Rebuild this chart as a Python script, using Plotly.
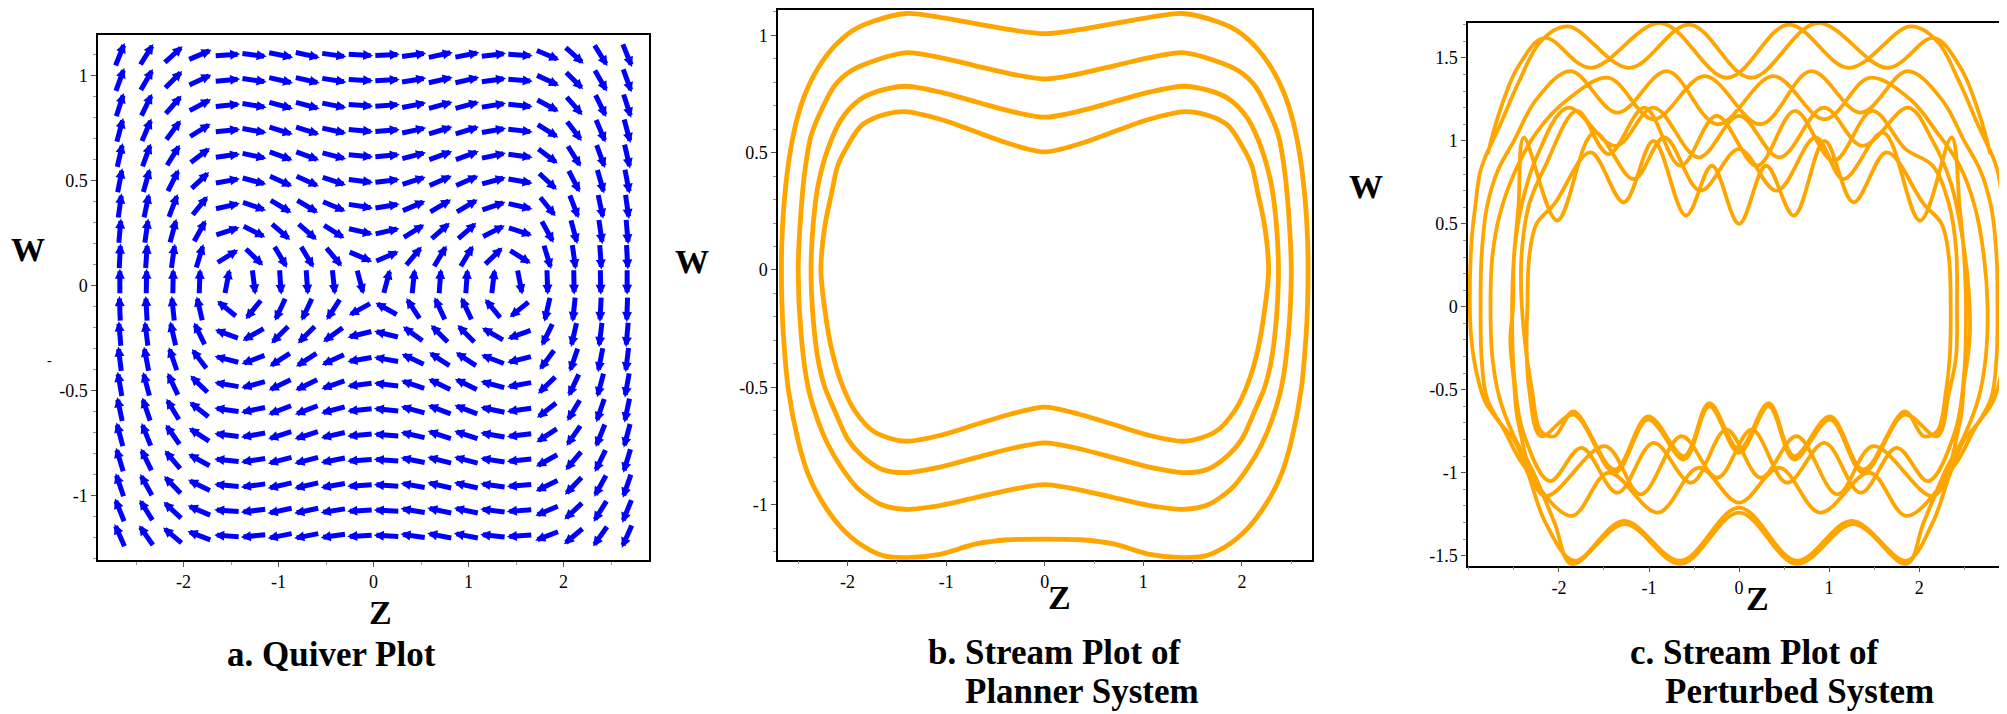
import plotly.graph_objects as go
import math

FIG_W, FIG_H = 2007, 714
BLUE = "#0000FF"
ORANGE = "#FFA500"
SERIF = "Liberation Serif"

# ---------------- panel a : quiver (direction field) ----------------
Z_COLS = [-2.67, -2.39, -2.11, -1.83, -1.54, -1.26, -0.98, -0.70, -0.42, -0.14,
          0.14, 0.42, 0.70, 0.98, 1.26, 1.54, 1.83, 2.11, 2.39, 2.67]
W_ROWS = [1.10, 0.98, 0.86, 0.74, 0.62, 0.50, 0.38, 0.26, 0.14, 0.02,
          -0.11, -0.23, -0.35, -0.47, -0.59, -0.71, -0.83, -0.95, -1.07, -1.19]
# on-screen arrow direction in degrees (0 = right, 90 = up), one row per W_ROWS entry
ARROW_ANGLE_DEG = [
    [68, 58, 42, 23, 4, -7, -11, -12, -8, -3, 3, 8, 12, 11, 7, -4, -23, -42, -58, -68],
    [70, 60, 45, 25, 5, -8, -13, -13, -9, -3, 3, 9, 13, 13, 8, -5, -25, -45, -60, -70],
    [72, 64, 49, 28, 6, -9, -15, -15, -11, -4, 4, 11, 15, 15, 9, -6, -28, -49, -64, -72],
    [75, 67, 53, 32, 6, -10, -17, -17, -12, -5, 5, 12, 17, 17, 10, -6, -32, -53, -67, -75],
    [77, 70, 58, 37, 8, -12, -20, -20, -15, -5, 5, 15, 20, 20, 12, -8, -37, -58, -70, -77],
    [79, 74, 63, 43, 10, -15, -24, -24, -18, -7, 7, 18, 24, 24, 15, -10, -43, -63, -74, -79],
    [82, 78, 69, 51, 13, -19, -31, -31, -23, -9, 9, 23, 31, 31, 19, -13, -51, -69, -78, -82],
    [85, 82, 75, 61, 18, -27, -41, -41, -32, -13, 13, 32, 41, 41, 27, -18, -61, -75, -82, -85],
    [87, 86, 82, 73, 32, -44, -59, -59, -50, -23, 23, 50, 59, 59, 44, -32, -73, -82, -86, -87],
    [90, 89, 89, 88, 79, -83, -86, -86, -84, -75, 75, 84, 86, 86, 83, -79, -88, -89, -89, -90],
    [92, 93, 96, 103, 141, -129, -115, -115, -123, -151, 151, 123, 115, 115, 129, -141, -103, -96, -93, -92],
    [95, 97, 103, 116, 160, -150, -135, -135, -144, -166, 166, 144, 135, 135, 150, -160, -116, -103, -97, -95],
    [97, 101, 109, 127, 166, -159, -147, -147, -155, -170, 170, 155, 147, 147, 159, -166, -127, -109, -101, -97],
    [100, 105, 115, 136, 170, -165, -154, -154, -161, -173, 173, 161, 154, 154, 165, -170, -136, -115, -105, -100],
    [102, 109, 121, 142, 172, -168, -159, -159, -165, -174, 174, 165, 159, 159, 168, -172, -142, -121, -109, -102],
    [105, 112, 125, 147, 173, -170, -162, -162, -167, -175, 175, 167, 162, 162, 170, -173, -147, -125, -112, -105],
    [107, 116, 130, 151, 174, -171, -165, -165, -169, -176, 176, 169, 165, 165, 171, -174, -151, -130, -116, -107],
    [109, 119, 134, 154, 175, -172, -167, -167, -170, -176, 176, 170, 167, 167, 172, -175, -154, -134, -119, -109],
    [112, 122, 137, 157, 176, -173, -168, -168, -171, -177, 177, 171, 168, 168, 173, -176, -157, -137, -122, -112],
    [114, 125, 140, 159, 176, -174, -169, -169, -172, -177, 177, 172, 169, 169, 174, -176, -159, -140, -125, -114],
]

# ---------------- panel b : stream plot of planar system ----------------
B_LOOP1 = [(0, 1.007), (0.35, 1.024), (0.7, 1.05), (1.05, 1.076), (1.4, 1.093), (1.76, 1.057), (1.95, 1.02),
           (2.13, 0.955), (2.30, 0.86), (2.43, 0.75), (2.52, 0.63), (2.59, 0.48), (2.64, 0.30), (2.665, 0.13),
           (2.67, 0.0), (2.665, -0.15), (2.65, -0.28), (2.60, -0.51), (2.50, -0.73), (2.40, -0.87), (2.27, -0.98),
           (2.06, -1.10), (1.83, -1.18), (1.62, -1.22), (1.39, -1.226), (1.05, -1.211), (0.71, -1.169),
           (0.37, -1.150), (0, -1.147), (-0.37, -1.150), (-0.71, -1.169), (-1.05, -1.211), (-1.39, -1.226),
           (-1.62, -1.22), (-1.83, -1.18), (-2.06, -1.10), (-2.27, -0.98), (-2.40, -0.87), (-2.50, -0.73),
           (-2.60, -0.51), (-2.65, -0.28), (-2.665, -0.15), (-2.67, 0.0), (-2.665, 0.13), (-2.64, 0.30),
           (-2.59, 0.48), (-2.52, 0.63), (-2.43, 0.75), (-2.30, 0.86), (-2.13, 0.955), (-1.95, 1.02),
           (-1.76, 1.057), (-1.4, 1.093), (-1.05, 1.076), (-0.7, 1.05), (-0.35, 1.024), (0, 1.007)]
B_LOOP2 = [(0, 0.814), (0.35, 0.836), (0.7, 0.87), (1.05, 0.904), (1.4, 0.926), (1.72, 0.893), (1.96, 0.85),
           (2.13, 0.786), (2.26, 0.686), (2.37, 0.572), (2.43, 0.43), (2.47, 0.26), (2.50, 0.0), (2.47, -0.28),
           (2.40, -0.5), (2.30, -0.643), (2.20, -0.743), (2.06, -0.843), (1.90, -0.929), (1.66, -1.0),
           (1.42, -1.02), (1.05, -1.003), (0.7, -0.97), (0.35, -0.937), (0, -0.915), (-0.35, -0.937),
           (-0.7, -0.97), (-1.05, -1.003), (-1.42, -1.02), (-1.66, -1.0), (-1.90, -0.929), (-2.06, -0.843),
           (-2.20, -0.743), (-2.30, -0.643), (-2.40, -0.5), (-2.47, -0.28), (-2.50, 0.0), (-2.47, 0.26),
           (-2.43, 0.43), (-2.37, 0.572), (-2.26, 0.686), (-2.13, 0.786), (-1.96, 0.85), (-1.72, 0.893),
           (-1.4, 0.926), (-1.05, 0.904), (-0.7, 0.87), (-0.35, 0.836), (0, 0.814)]
B_LOOP3 = [(0, 0.651), (0.35, 0.677), (0.7, 0.717), (1.05, 0.757), (1.42, 0.783), (1.72, 0.758), (1.89, 0.722),
           (2.06, 0.644), (2.20, 0.515), (2.30, 0.358), (2.35, 0.187), (2.37, 0.0), (2.35, -0.2), (2.30, -0.38),
           (2.23, -0.5), (2.13, -0.6), (2.0, -0.72), (1.86, -0.79), (1.66, -0.848), (1.42, -0.864),
           (1.05, -0.839), (0.7, -0.8), (0.35, -0.762), (0, -0.737), (-0.35, -0.762), (-0.7, -0.8),
           (-1.05, -0.839), (-1.42, -0.864), (-1.66, -0.848), (-1.86, -0.79), (-2.0, -0.72), (-2.13, -0.6),
           (-2.23, -0.5), (-2.30, -0.38), (-2.35, -0.2), (-2.37, 0.0), (-2.35, 0.187), (-2.30, 0.358),
           (-2.20, 0.515), (-2.06, 0.644), (-1.89, 0.722), (-1.72, 0.758), (-1.42, 0.783), (-1.05, 0.757),
           (-0.7, 0.717), (-0.35, 0.677), (0, 0.651)]
B_LOOP4 = [(0, 0.503), (0.35, 0.537), (0.7, 0.589), (1.05, 0.641), (1.42, 0.675), (1.66, 0.658), (1.86, 0.615),
           (2.0, 0.529), (2.10, 0.444), (2.16, 0.33), (2.23, 0.187), (2.27, 0.0), (2.23, -0.17), (2.16, -0.341),
           (2.06, -0.484), (1.93, -0.598), (1.73, -0.69), (1.42, -0.73), (1.05, -0.704), (0.7, -0.659),
           (0.35, -0.615), (0, -0.585), (-0.35, -0.615), (-0.7, -0.659), (-1.05, -0.704), (-1.42, -0.73),
           (-1.73, -0.69), (-1.93, -0.598), (-2.06, -0.484), (-2.16, -0.341), (-2.23, -0.17), (-2.27, 0.0),
           (-2.23, 0.187), (-2.16, 0.33), (-2.10, 0.444), (-2.0, 0.529), (-1.86, 0.615), (-1.66, 0.658),
           (-1.42, 0.675), (-1.05, 0.641), (-0.7, 0.589), (-0.35, 0.537), (0, 0.503)]

# ---------------- panel c : stream plot of perturbed system ----------------
C_TRAJ1 = [(-2.79, 0.92), (-2.68, 1.14), (-2.46, 1.44), (-2.16, 1.62), (-1.65, 1.44), (-0.87, 1.71), (-0.13, 1.38),
           (0.55, 1.70), (1.22, 1.44), (1.90, 1.69), (2.2, 1.6), (2.45, 1.35), (2.65, 1.1), (2.82, 0.90),
           (2.88, 0.80), (2.93, 0.60), (2.97, 0.40), (2.99, 0.0), (2.97, -0.21), (2.91, -0.41), (2.82, -0.57),
           (2.67, -0.69), (2.49, -0.81), (2.34, -1.01), (2.15, -1.3), (1.86, -1.53), (1.25, -1.29), (0.64, -1.53),
           (0, -1.21), (-0.65, -1.53), (-1.28, -1.29), (-1.83, -1.53), (-2.15, -1.3), (-2.34, -1.01),
           (-2.49, -0.81), (-2.67, -0.69), (-2.82, -0.57), (-2.91, -0.41), (-2.97, -0.21), (-2.99, 0.0),
           (-2.97, 0.40), (-2.93, 0.60), (-2.88, 0.80), (-2.82, 0.90), (-2.65, 1.1), (-2.45, 1.35), (-2.2, 1.6),
           (-1.90, 1.69), (-1.22, 1.44), (-0.55, 1.70), (0.13, 1.38), (0.87, 1.71), (1.65, 1.44), (2.16, 1.62),
           (2.46, 1.44), (2.68, 1.14), (2.79, 0.92)]
C_TRAJ2 = [(-2.87, 0.0), (-2.86, 0.3), (-2.8, 0.6), (-2.68, 0.82), (-2.5, 1.0), (-2.25, 1.25), (-1.87, 1.42),
           (-1.35, 1.17), (-0.80, 1.42), (-0.24, 1.10), (0.38, 1.39), (0.95, 1.13), (1.45, 1.38), (1.9, 1.25),
           (2.2, 1.05), (2.45, 0.85), (2.62, 0.6), (2.72, 0.3), (2.76, 0.0), (2.74, -0.3), (2.66, -0.55),
           (2.5, -0.78), (2.3, -0.98), (2.05, -1.3), (1.86, -1.55), (1.27, -1.31), (0.64, -1.55), (0, -1.24),
           (-0.65, -1.55), (-1.27, -1.31), (-1.86, -1.55), (-2.05, -1.3), (-2.3, -0.98), (-2.5, -0.78),
           (-2.66, -0.55), (-2.74, -0.3), (-2.76, 0.0), (-2.74, 0.3), (-2.66, 0.55), (-2.5, 0.8), (-2.25, 1.05),
           (-1.9, 1.25), (-1.45, 1.38), (-0.95, 1.13), (-0.38, 1.39), (0.24, 1.10), (0.80, 1.42), (1.35, 1.17),
           (1.87, 1.42), (2.25, 1.25), (2.5, 1.0), (2.68, 0.82), (2.8, 0.6), (2.86, 0.3), (2.87, 0.0),
           (2.86, -0.3), (2.8, -0.55), (2.6, -0.75), (2.4, -0.95), (1.86, -1.26), (1.45, -1.0), (0.90, -1.24),
           (0.45, -0.97), (0.0, -1.18), (-0.45, -0.97), (-0.90, -1.24), (-1.45, -1.0), (-1.86, -1.26),
           (-2.4, -0.95), (-2.6, -0.75), (-2.8, -0.55), (-2.86, -0.3), (-2.87, 0.0)]
C_TRAJ3 = [(-2.51, 0.0), (-2.5, 0.3), (-2.42, 0.6), (-2.25, 0.9), (-1.9, 1.2), (-1.37, 0.97), (-0.95, 1.2),
           (-0.45, 0.90), (0, 1.15), (0.45, 0.90), (0.94, 1.2), (1.37, 0.97), (1.88, 1.2), (2.15, 1.0),
           (2.35, 0.75), (2.47, 0.45), (2.55, 0.1), (2.56, -0.2), (2.5, -0.45), (2.45, -0.7), (2.16, -1.14),
           (1.49, -0.84), (1.09, -1.13), (0.64, -0.78), (0.24, -1.03), (-0.14, -0.74), (-0.53, -1.06),
           (-0.95, -0.82), (-1.35, -1.12), (-1.75, -0.85), (-2.1, -1.05), (-2.4, -0.75), (-2.5, -0.4),
           (-2.52, 0.0), (-2.5, 0.3), (-2.45, 0.6), (-2.39, 1.02), (-2.02, 0.52), (-1.61, 1.05), (-1.17, 0.77),
           (-0.83, 1.02), (-0.43, 0.70), (0, 0.95), (0.42, 0.70), (0.85, 1.02), (1.16, 0.77), (1.60, 1.05),
           (2.01, 0.52), (2.36, 1.02), (2.45, 0.6), (2.5, 0.3), (2.52, 0.0), (2.5, -0.4), (2.4, -0.75),
           (2.1, -1.05), (1.75, -0.85), (1.35, -1.12), (0.95, -0.82), (0.53, -1.06), (0.14, -0.74),
           (-0.24, -1.03), (-0.64, -0.78), (-1.09, -1.13), (-1.49, -0.84), (-2.16, -1.14), (-2.45, -0.7),
           (-2.5, -0.45), (-2.54, -0.2), (-2.51, 0.0)]
C_TRAJ4 = [(-2.35, 0.0), (-2.33, 0.3), (-2.25, 0.5), (-2.05, 0.62), (-1.65, 0.93), (-1.28, 0.63), (-0.95, 1.0),
           (-0.59, 0.55), (-0.3, 0.85), (0, 0.50), (0.3, 0.85), (0.61, 0.55), (0.95, 1.0), (1.27, 0.63),
           (1.64, 0.93), (2.05, 0.62), (2.25, 0.5), (2.33, 0.3), (2.35, 0.0), (2.34, -0.3), (2.3, -0.5),
           (2.2, -0.75), (2.05, -0.78), (1.84, -0.63), (1.38, -0.98), (1.01, -0.66), (0.61, -0.90), (0.33, -0.58),
           (0, -0.86), (-0.33, -0.58), (-0.61, -0.90), (-1.01, -0.66), (-1.38, -0.98), (-1.84, -0.63),
           (-2.05, -0.78), (-2.2, -0.75), (-2.3, -0.5), (-2.38, -0.2), (-2.42, 0.1), (-2.41, 0.35), (-2.33, 0.62),
           (-2.15, 0.85), (-1.8, 1.18), (-1.45, 0.92), (-1.05, 1.2), (-0.65, 0.85), (-0.25, 1.15), (0.2, 0.85),
           (0.62, 1.18), (1.05, 0.88), (1.48, 1.18), (1.85, 0.95), (2.15, 0.85), (2.33, 0.62), (2.41, 0.35),
           (2.42, 0.0), (2.41, -0.3), (2.33, -0.52), (2.2, -0.78), (1.84, -0.65), (1.38, -1.0), (1.01, -0.68),
           (0.61, -0.92), (0.33, -0.60), (0, -0.88), (-0.33, -0.60), (-0.61, -0.92), (-1.01, -0.68),
           (-1.38, -1.0), (-1.84, -0.65), (-2.2, -0.78), (-2.33, -0.5), (-2.36, -0.2), (-2.35, 0.0)]

# ---------------- tick labels ----------------
X_TICKS = [-2, -1, 0, 1, 2]
X_TICKTEXT = ["-2", "-1", "0", "1", "2"]
Y_TICKS_AB = [-1, -0.5, 0, 0.5, 1]
Y_TICKTEXT_AB = ["-1", "-0.5", "0", "0.5", "1"]
Y_TICKS_C = [-1.5, -1, -0.5, 0, 0.5, 1, 1.5]
Y_TICKTEXT_C = ["-1.5", "-1", "-0.5", "0", "0.5", "1", "1.5"]

# ---------------- layout geometry (pixels) ----------------
PANELS = {
    "a": dict(l=90, r=641, t=27, b=552, xr=[-2.9, 2.9], yr=[-1.305, 1.195]),
    "b": dict(l=770, r=1304, t=2, b=551.7, xr=[-2.705, 2.71], yr=[-1.235, 1.108]),
    "c": dict(l=1460, r=2003, t=15, b=557.7, xr=[-3.01, 3.02], yr=[-1.56, 1.71]),
}


def axis(p, which, tickvals, ticktext, minor_dtick, anchor):
    g = PANELS[p]
    if which == "x":
        dom = [g["l"] / FIG_W, g["r"] / FIG_W]
        rng = g["xr"]
    else:
        dom = [1 - g["b"] / FIG_H, 1 - g["t"] / FIG_H]
        rng = g["yr"]
    return dict(domain=dom, range=rng, anchor=anchor, showgrid=False, zeroline=False,
                showline=True, linecolor="black", linewidth=1.5, mirror=True,
                ticks="outside", ticklen=5, tickwidth=1, tickcolor="#555",
                tickmode="array", tickvals=tickvals, ticktext=ticktext,
                tickfont=dict(family=SERIF, size=18, color="black"),
                minor=dict(ticks="outside", ticklen=3, tickwidth=1, tickcolor="#999",
                           tickmode="linear", tick0=0, dtick=minor_dtick, showgrid=False),
                fixedrange=True)


fig = go.Figure()

# panel a anchor trace
fig.add_trace(go.Scatter(x=[None], y=[None], xaxis="x", yaxis="y", showlegend=False))

ga = PANELS["a"]
px_per_x = (ga["r"] - ga["l"]) / (ga["xr"][1] - ga["xr"][0])
px_per_y = (ga["b"] - ga["t"]) / (ga["yr"][1] - ga["yr"][0])
HALF_LEN = 13.0

annotations = []
for i, w in enumerate(W_ROWS):
    for j, z in enumerate(Z_COLS):
        th = math.radians(ARROW_ANGLE_DEG[i][j])
        dz = HALF_LEN * math.cos(th) / px_per_x
        dw = HALF_LEN * math.sin(th) / px_per_y
        annotations.append(dict(
            x=z + dz, y=w + dw, ax=z - dz, ay=w - dw,
            xref="x", yref="y", axref="x", ayref="y",
            text="", showarrow=True, arrowhead=2, arrowsize=0.4,
            arrowwidth=5, arrowcolor=BLUE, standoff=0, startstandoff=0))

for loop in [B_LOOP1, B_LOOP2, B_LOOP3, B_LOOP4]:
    fig.add_trace(go.Scatter(x=[p[0] for p in loop], y=[p[1] for p in loop], mode="lines",
                             line=dict(color=ORANGE, width=4.8, shape="spline", smoothing=0.8),
                             xaxis="x2", yaxis="y2", showlegend=False, hoverinfo="skip"))

for traj in [C_TRAJ1, C_TRAJ2, C_TRAJ3, C_TRAJ4]:
    fig.add_trace(go.Scatter(x=[p[0] for p in traj], y=[p[1] for p in traj], mode="lines",
                             line=dict(color=ORANGE, width=3.8, shape="spline", smoothing=1.0),
                             xaxis="x3", yaxis="y3", showlegend=False, hoverinfo="skip"))


def txt(text, xpx, ypx, size, bold=True, xanchor="center"):
    return dict(text=("<b>%s</b>" % text) if bold else text, x=xpx / FIG_W, y=1 - ypx / FIG_H,
                xref="paper", yref="paper", showarrow=False, xanchor=xanchor, yanchor="middle",
                font=dict(family=SERIF, size=size, color="black"))


annotations += [
    txt("W", 20, 241, 34),
    txt("-", 41, 352, 14, bold=False),
    txt("Z", 372, 604, 34),
    txt("a. Quiver Plot", 323, 646, 35),
    txt("W", 684, 253, 34),
    txt("Z", 1051, 589, 34),
    txt("b. Stream Plot of", 918, 644, 35, xanchor="left"),
    txt("Planner System", 955, 683, 35, xanchor="left"),
    txt("W", 1358, 178, 34),
    txt("Z", 1749, 590, 34),
    txt("c. Stream Plot of", 1620, 644, 35, xanchor="left"),
    txt("Perturbed System", 1655, 683, 35, xanchor="left"),
]

fig.update_layout(
    width=FIG_W, height=FIG_H, margin=dict(l=0, r=0, t=0, b=0),
    paper_bgcolor="white", plot_bgcolor="white", showlegend=False,
    xaxis=axis("a", "x", X_TICKS, X_TICKTEXT, 0.5, "y"),
    yaxis=axis("a", "y", Y_TICKS_AB, Y_TICKTEXT_AB, 0.1, "x"),
    xaxis2=axis("b", "x", X_TICKS, X_TICKTEXT, 0.5, "y2"),
    yaxis2=axis("b", "y", Y_TICKS_AB, Y_TICKTEXT_AB, 0.1, "x2"),
    xaxis3=axis("c", "x", X_TICKS, X_TICKTEXT, 0.5, "y3"),
    yaxis3=axis("c", "y", Y_TICKS_C, Y_TICKTEXT_C, 0.1, "x3"),
    annotations=annotations,
)

fig.write_html("out.html")
